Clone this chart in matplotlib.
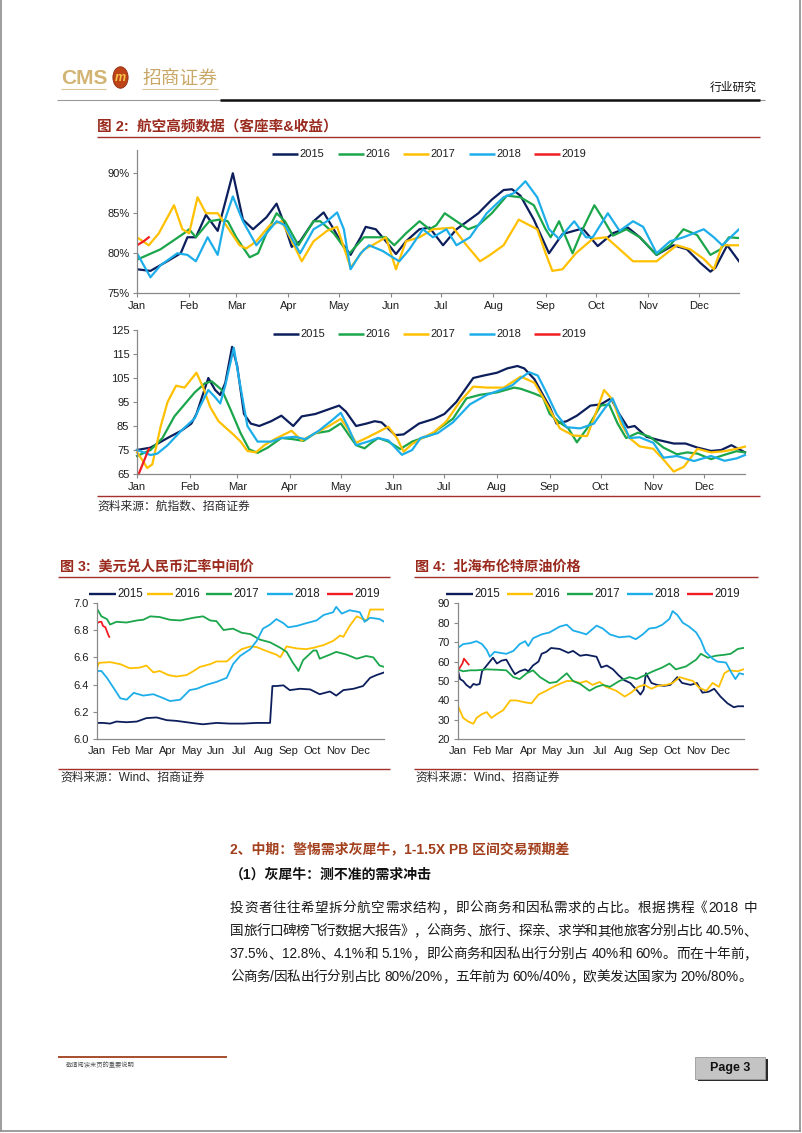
import re

import matplotlib
matplotlib.use("Agg")
import matplotlib.pyplot as plt
from matplotlib.lines import Line2D
from matplotlib.patches import Rectangle, Circle

plt.rcParams["font.family"] = ["Liberation Sans", "Noto Sans CJK SC", "DejaVu Sans"]

W, H = 802, 1133

MONTHS = ["Jan", "Feb", "Mar", "Apr", "May", "Jun", "Jul", "Aug", "Sep", "Oct", "Nov", "Dec"]
MONTH_START = [0, 31, 59, 90, 120, 151, 181, 212, 243, 273, 304, 334]
YEARS = ["2015", "2016", "2017", "2018", "2019"]

NAVY, GREEN, GOLD, SKY, RED = "#0C1F5C", "#1BA64B", "#FFC000", "#1DAEEA", "#F01E23"
COLORS_AIR = {"2015": NAVY, "2016": GREEN, "2017": GOLD, "2018": SKY, "2019": RED}
COLORS_MKT = {"2015": NAVY, "2016": GOLD, "2017": GREEN, "2018": SKY, "2019": RED}

# ---- figure 2 top: load factor (%), x = day of year
lf_2015_day = [0, 8, 18, 26, 30, 35, 41, 48, 57, 63, 69, 77, 83, 87, 92, 97, 105, 111, 117, 121, 127, 133, 136,
               142, 148, 154, 160, 168, 174, 182, 190, 203, 211, 218, 223, 228, 236, 245, 253, 265, 274, 283, 292,
               299, 309, 319, 327, 335, 341, 344, 351, 358]
lf_2015 = [78, 77.8, 79, 80, 82, 82, 84.8, 82.8, 90, 84.2, 83, 84.5, 86.2, 84, 80.8, 81.5, 84, 85.1, 83, 81.5, 79.8,
           82, 83.3, 83, 81.5, 79.9, 81.5, 83, 83.2, 81, 83, 85, 86.7, 87.9, 88, 87.2, 84.2, 80, 82.4, 83.1, 80.9,
           82.5, 83.2, 82, 79.8, 81, 80.5, 78.8, 77.7, 78.2, 81, 79]
lf_2016_day = [0, 14, 28, 31, 35, 43, 49, 54, 59, 67, 72, 77, 83, 88, 96, 105, 109, 117, 126, 135, 142, 148, 153,
               160, 168, 174, 178, 183, 190, 197, 203, 211, 220, 228, 236, 243, 246, 251, 255, 259, 265, 272, 278,
               283, 291, 299, 309, 317, 325, 333, 341, 347, 352, 358]
lf_2016 = [79.2, 80.5, 82.5, 83, 82, 84, 84.2, 84, 82, 79.5, 80, 82.5, 85, 84, 81, 84, 84, 82.5, 79.9, 82, 82, 82,
           81, 82.5, 84, 83, 83.5, 85, 84, 83, 83.5, 85, 87.2, 87, 86, 83, 82, 84, 82, 80, 83, 86, 84, 82.2, 83,
           82, 79.8, 81, 83, 82.3, 79.8, 80.5, 82, 81.9]
lf_2017_day = [0, 7, 13, 22, 27, 31, 36, 41, 48, 53, 61, 65, 71, 79, 86, 91, 98, 105, 113, 119, 127, 135, 140,
               148, 154, 160, 168, 176, 188, 196, 204, 210, 218, 227, 238, 243, 247, 253, 261, 271, 279, 287, 295,
               309, 321, 329, 337, 343, 348, 358]
lf_2017 = [82, 81, 82.5, 86, 83, 82.5, 87, 85, 85, 83.5, 81, 80.6, 81.5, 83.5, 84, 82, 79, 81.5, 82.8, 83.3, 78.2,
           80.5, 81, 82, 78, 81.5, 82, 83, 83.2, 81, 79, 79.8, 81, 84.2, 83, 80, 77.8, 78, 80, 81.8, 82, 80.5, 79,
           79, 81, 80.5, 79.3, 78, 81, 81]
lf_2018_day = [0, 4, 8, 14, 24, 30, 35, 42, 48, 52, 57, 63, 71, 77, 83, 88, 93, 97, 105, 113, 119, 123, 127, 133,
               138, 146, 152, 156, 162, 170, 176, 184, 190, 198, 208, 218, 224, 231, 238, 245, 251, 260, 267, 271,
               280, 287, 295, 301, 309, 317, 325, 337, 343, 348, 353, 358]
lf_2018 = [80, 78.5, 77, 78.5, 80, 79.8, 79, 82, 79.8, 84, 87.1, 84, 81, 82.5, 84, 83.5, 81.5, 80, 83, 84, 85.1,
           83, 78, 80, 81, 80.3, 79.5, 79, 80.5, 83, 82, 83, 81, 82, 85, 87, 87.5, 89, 87, 83, 81.8, 84, 82, 82,
           85, 82.8, 84, 83.3, 80, 81.5, 82, 83, 82, 81, 82, 83]
lf_2019_day = [0, 4, 7]
lf_2019 = [81, 81.5, 82]

# ---- figure 2 bottom: revenue index
ri_2015_day = [0, 8, 18, 26, 32, 35, 42, 46, 49, 52, 56, 59, 63, 67, 72, 79, 85, 92, 97, 105, 113, 119, 123, 129,
               135, 140, 144, 152, 157, 166, 175, 181, 188, 198, 204, 212, 218, 224, 228, 234, 239, 243, 247, 253,
               259, 267, 273, 279, 284, 289, 293, 300, 308, 316, 323, 330, 338, 344, 350, 354, 358]
ri_2015 = [75, 76, 80, 83, 86, 90, 105, 100, 97.9, 103, 118, 110, 90, 86, 85, 87, 89.3, 85, 89, 90, 92, 93.5, 91,
           85, 86, 87, 86.5, 81.2, 81.5, 86, 88, 90, 95, 105, 106, 107.2, 109, 110, 109, 104.5, 98, 93, 86, 87,
           89.3, 93.5, 94, 96.5, 90, 84.4, 85, 80.5, 79, 77.7, 77.7, 76, 74.6, 75, 77, 75.5, 74]
ri_2016_day = [0, 8, 15, 22, 28, 34, 40, 44, 50, 55, 61, 66, 71, 77, 85, 92, 98, 105, 113, 120, 125, 129, 134, 138,
               142, 148, 155, 162, 174, 177, 186, 194, 202, 212, 222, 226, 234, 239, 243, 249, 254, 259, 265, 273,
               278, 283, 288, 295, 302, 310, 318, 324, 330, 338, 346, 353, 358]
ri_2016 = [72.5, 75, 80, 89, 94, 99, 102.8, 103.6, 100, 92, 82, 75.3, 73.8, 76, 80, 79.5, 78.8, 82, 82.9, 86.1, 81,
           77, 75.7, 78, 80, 78.5, 75.4, 78.5, 81.5, 83.5, 88, 96.5, 98, 99, 101, 100.5, 98.5, 97, 90, 86.4, 84,
           78.2, 84, 93.5, 94, 86, 80, 82.2, 80.5, 76, 73.2, 74, 73.5, 71.2, 73, 74.5, 74]
ri_2017_day = [0, 3, 6, 9, 14, 18, 23, 28, 35, 39, 43, 48, 53, 57, 61, 65, 70, 75, 81, 91, 97, 105, 113, 120, 124,
               129, 135, 142, 148, 153, 157, 162, 168, 175, 182, 190, 198, 206, 216, 226, 234, 239, 243, 249, 257,
               265, 270, 275, 280, 285, 290, 296, 304, 310, 316, 322, 330, 338, 346, 353, 358]
ri_2017 = [74, 71, 67.5, 69, 85, 95, 101.8, 101, 107.2, 101, 93, 87, 83.8, 81.3, 78.5, 74.6, 74, 77, 79.5, 83, 79,
           82, 85, 88, 84, 78, 80, 82.5, 84.7, 80, 74.3, 77.5, 80, 82.5, 86.8, 95, 101.4, 101, 101, 105.6, 103, 97,
           92, 84, 81, 80.8, 90, 100, 96, 86, 80, 76.5, 75.5, 71, 66, 68, 75.5, 74, 74.5, 75.5, 76.4]
ri_2018_day = [0, 8, 12, 18, 26, 34, 37, 42, 46, 49, 52, 57, 60, 65, 71, 79, 85, 93, 99, 107, 115, 120, 124, 129,
               136, 142, 148, 156, 162, 167, 177, 186, 196, 206, 216, 221, 226, 231, 236, 241, 247, 253, 261, 269,
               275, 280, 285, 290, 296, 304, 310, 318, 328, 338, 346, 353, 358]
ri_2018 = [75, 72.9, 73.5, 77, 83, 88.2, 93, 100, 97, 94.4, 102, 117.6, 105, 85, 78.5, 78.5, 80, 80.5, 79.5, 83,
           87.5, 90.5, 85, 77, 78.5, 80, 79, 73, 75, 80, 82, 86.5, 94, 98, 100.5, 102, 105, 107.4, 106, 99, 90,
           84.5, 84, 86, 92, 96.5, 88, 80, 80.3, 78, 71.8, 72.5, 70.4, 72.5, 70.5, 71.5, 72.9]
ri_2019_day = [1, 7]
ri_2019 = [65, 75.5]

# ---- figure 3: USD/CNY central parity
fx_2015_day = [0, 8, 17, 25, 38, 51, 63, 76, 89, 101, 114, 127, 135, 152, 169, 186, 203, 218, 220, 223, 228, 237,
               245, 258, 271, 283, 296, 304, 313, 326, 338, 347, 355, 365]
fx_2015 = [6.12, 6.12, 6.115, 6.13, 6.125, 6.13, 6.155, 6.16, 6.14, 6.135, 6.125, 6.115, 6.11, 6.12, 6.115, 6.115,
           6.12, 6.12, 6.12, 6.39, 6.39, 6.395, 6.36, 6.37, 6.365, 6.33, 6.35, 6.32, 6.36, 6.37, 6.39, 6.45, 6.47,
           6.49]
fx_2016_day = [0, 3, 17, 30, 42, 55, 63, 72, 80, 91, 101, 114, 123, 131, 144, 152, 165, 175, 184, 195, 203, 216,
               228, 233, 241, 254, 266, 275, 288, 300, 309, 313, 321, 330, 338, 343, 347, 365]
fx_2016 = [6.52, 6.56, 6.565, 6.55, 6.52, 6.525, 6.54, 6.49, 6.5, 6.47, 6.46, 6.47, 6.5, 6.53, 6.55, 6.57, 6.57,
           6.62, 6.66, 6.68, 6.675, 6.645, 6.62, 6.6, 6.68, 6.665, 6.66, 6.67, 6.69, 6.72, 6.76, 6.75, 6.83, 6.9,
           6.88, 6.87, 6.95, 6.95]
fx_2017_day = [1, 6, 13, 17, 25, 38, 51, 59, 68, 80, 93, 106, 123, 135, 144, 152, 161, 173, 184, 195, 207, 220,
               233, 241, 249, 254, 256, 262, 275, 279, 283, 296, 304, 317, 330, 342, 351, 359, 365]
fx_2017 = [6.95, 6.9, 6.88, 6.84, 6.86, 6.855, 6.87, 6.875, 6.9, 6.895, 6.875, 6.87, 6.89, 6.9, 6.87, 6.865, 6.8,
           6.81, 6.78, 6.77, 6.73, 6.71, 6.67, 6.64, 6.56, 6.52, 6.5, 6.58, 6.65, 6.65, 6.59, 6.62, 6.64, 6.62,
           6.59, 6.61, 6.6, 6.54, 6.53]
fx_2018_day = [0, 6, 13, 21, 30, 38, 47, 59, 72, 85, 93, 106, 118, 127, 140, 152, 165, 173, 182, 195, 203, 211,
               220, 228, 237, 243, 254, 266, 279, 288, 300, 304, 311, 321, 334, 340, 347, 359, 365]
fx_2018 = [6.5, 6.5, 6.45, 6.38, 6.3, 6.29, 6.34, 6.32, 6.33, 6.3, 6.28, 6.29, 6.36, 6.37, 6.4, 6.42, 6.45, 6.55,
           6.61, 6.66, 6.72, 6.81, 6.84, 6.88, 6.85, 6.82, 6.83, 6.85, 6.87, 6.91, 6.93, 6.97, 6.92, 6.945, 6.93,
           6.86, 6.89, 6.88, 6.86]
fx_2019_day = [0, 4, 6, 8, 11, 13, 15, 16]
fx_2019 = [6.85, 6.86, 6.86, 6.83, 6.82, 6.79, 6.76, 6.75]

# ---- figure 4: Brent crude (USD/bbl)
oil_2015_day = [0, 3, 7, 11, 16, 20, 24, 28, 31, 35, 41, 45, 50, 56, 62, 69, 73, 79, 86, 90, 96, 103, 107, 113,
                119, 130, 141, 147, 156, 164, 177, 183, 190, 198, 205, 212, 220, 229, 233, 237, 240, 247, 254, 263,
                271, 280, 286, 297, 305, 312, 320, 327, 335, 344, 352, 357, 364]
oil_2015 = [56, 51, 50, 48, 46.5, 48.5, 48, 48.5, 55, 57, 60, 62, 59, 60.5, 61, 56, 53.5, 55, 56, 55, 58, 60, 64,
            65, 67, 66.5, 64.5, 65.5, 63, 63.5, 62.5, 57, 58, 56, 53, 50.5, 49, 45, 43, 45.5, 54, 49, 48, 47.5, 48,
            52, 49, 48, 49, 44, 44.5, 46, 42, 38.5, 36.5, 37, 37]
oil_2016_day = [0, 7, 14, 20, 24, 31, 37, 43, 50, 58, 67, 75, 86, 94, 103, 113, 122, 130, 139, 147, 156, 164, 172,
                181, 189, 202, 213, 221, 230, 238, 247, 255, 266, 274, 283, 291, 300, 308, 317, 325, 333, 340, 346,
                357, 364]
oil_2016 = [37.5, 31, 29, 28, 31, 33, 34, 31, 33, 35, 40, 40, 39, 38.5, 43, 45, 47, 48.5, 50, 50, 49, 50, 48, 49.5,
            47, 45, 42, 44, 47, 48, 46, 47.5, 48, 49, 52, 51, 50, 46.5, 45, 49, 47, 54, 55.5, 55, 56]
oil_2017_day = [0, 7, 16, 24, 37, 50, 62, 71, 79, 88, 96, 105, 117, 126, 139, 147, 156, 168, 177, 185, 194, 206,
                219, 228, 236, 249, 261, 270, 278, 291, 304, 310, 319, 329, 340, 348, 357, 364]
oil_2017 = [56, 55, 55.5, 55.5, 56, 55.8, 55.5, 52, 51, 54, 55.5, 52, 49, 49.5, 54, 50, 48.5, 45, 47, 48, 47, 50,
            52, 51, 52.5, 55, 57, 59, 56, 57.5, 61, 64, 62, 63, 63.5, 64, 66.5, 67]
oil_2018_day = [0, 7, 16, 24, 31, 37, 41, 47, 54, 62, 71, 79, 86, 90, 96, 107, 117, 130, 139, 147, 156, 164, 177,
                185, 194, 206, 219, 227, 236, 244, 253, 261, 270, 274, 280, 287, 295, 304, 310, 316, 325, 331, 342,
                348, 354, 359, 364]
oil_2018 = [67, 69, 69.5, 70.5, 69, 66, 62.5, 65, 64.5, 64, 65.5, 69, 70.5, 68, 72, 74, 75, 78, 79, 76, 75, 74,
            78.5, 77, 74, 72.5, 73, 71.5, 74, 77, 77.5, 79, 82, 86, 84, 80, 78, 75, 71, 65, 61.5, 60, 59.5, 55, 51,
            54, 53.5]
oil_2019_day = [0, 3, 6, 8, 11, 14]
oil_2019 = [55.5, 57, 59, 61.5, 60, 58.5]

BODY_LINES = [
    "投资者往往希望拆分航空需求结构，即公商务和因私需求的占比。根据携程《2018 中",
    "国旅行口碑榜飞行数据大报告》，公商务、旅行、探亲、求学和其他旅客分别占比 40.5%、",
    "37.5%、12.8%、4.1%和 5.1%，即公商务和因私出行分别占 40%和 60%。而在十年前，",
    "公商务/因私出行分别占比 80%/20%，五年前为 60%/40%，欧美发达国家为 20%/80%。",
]

TITLE_RED = "#9A2A1E"
RULE_RED = "#A3302A"
AXIS_GREY = "#898989"
CJK = ["Noto Sans CJK SC", "DejaVu Sans"]
TOKEN = re.compile(r"[0-9A-Za-z.%/\-]+| |.")


def fx(x):
    return x / W


def fy(y):
    return 1 - y / H


fig = plt.figure(figsize=(W / 100, H / 100), dpi=100)
renderer = fig.canvas.get_renderer()


def hline(x0, x1, y, color, lw):
    fig.add_artist(Line2D([fx(x0), fx(x1)], [fy(y), fy(y)], transform=fig.transFigure, color=color, lw=lw,
                          solid_capstyle="butt"))


def page_axes(left, top, right, bottom):
    ax = fig.add_axes([fx(left), fy(bottom), (right - left) / W, (bottom - top) / H])
    for side in ("top", "right"):
        ax.spines[side].set_visible(False)
    for side in ("left", "bottom"):
        ax.spines[side].set_color(AXIS_GREY)
        ax.spines[side].set_linewidth(0.9)
    ax.tick_params(direction="out", length=3, width=0.8, color=AXIS_GREY, labelsize=8, labelcolor="#1e1e1e", pad=2.5)
    ax.set_xticks(MONTH_START)
    ax.set_xticklabels(MONTHS)
    ax.patch.set_alpha(0)
    return ax


def legend_row(x_starts, y, colors, line_len, lw, size):
    for x0, year in zip(x_starts, YEARS):
        fig.add_artist(Line2D([fx(x0), fx(x0 + line_len)], [fy(y), fy(y)], transform=fig.transFigure,
                              color=colors[year], lw=lw, solid_capstyle="butt"))
        fig.text(fx(x0 + line_len + 1.5), fy(y), year, fontsize=size, va="center", ha="left", color="#1e1e1e")


def justified(text, x0, x1, y, size, color):
    # place token by token on a common baseline so the line fills x0..x1 like the report text
    baseline = y + 0.36 * size * 100 / 72
    items = []
    for tok in TOKEN.findall(text):
        if tok == " ":
            items.append((None, 0.3 * size * 100 / 72))
            continue
        t = fig.text(fx(x0), fy(baseline), tok, fontsize=size, color=color, va="baseline", ha="left")
        items.append((t, t.get_window_extent(renderer).width))
    gap = (x1 - x0 - sum(w for _, w in items)) / (len(items) - 1)
    x = x0
    for t, w in items:
        if t is not None:
            t.set_x(fx(x))
        x += w + gap


# ---------------- page frame and header
for xs, ys in (([1, 1], [0, 1131]), ([800, 800], [0, 1131]), ([1, 800], [1131, 1131])):
    fig.add_artist(Line2D([fx(v) for v in xs], [fy(v) for v in ys], transform=fig.transFigure,
                          color="#8c8c8c", lw=1.2))

fig.text(fx(61), fy(78), "CMS", fontsize=15, color="#D2B475", va="center", ha="left", weight="bold")
fig.add_artist(Circle((fx(120.5), fy(77.5)), 7.6 / W, transform=fig.transFigure, facecolor="#BE4418",
                      edgecolor="#8E2A0E", lw=0.6))
fig.text(fx(120.5), fy(78), "m", fontsize=9, color="#F7C548", va="center", ha="center", weight="bold",
         style="italic")
fig.text(fx(142), fy(78), "招商证券", fontsize=13.5, color="#C9A766", va="center", ha="left", family=CJK)
hline(61, 106, 88.5, "#DCC595", 0.8)
hline(142, 218, 88.5, "#DCC595", 0.8)
fig.text(fx(757), fy(87), "行业研究", fontsize=8.5, color="#111111", va="center", ha="right", family=CJK)
hline(57, 765, 100, "#9a9a9a", 0.8)
hline(220, 760, 99.5, "#111111", 1.8)

# ---------------- figure 2
fig.text(fx(97), fy(127), "图 2:  航空高频数据（客座率&收益）", fontsize=10.5, color=TITLE_RED, va="center",
         ha="left", weight="bold", family=["Liberation Sans", "Noto Sans CJK SC"])
hline(97, 760, 136.5, RULE_RED, 1.0)

ax1 = page_axes(137, 150, 739, 293.3)
for year, days, vals in zip(YEARS, [lf_2015_day, lf_2016_day, lf_2017_day, lf_2018_day, lf_2019_day],
                            [lf_2015, lf_2016, lf_2017, lf_2018, lf_2019]):
    ax1.plot(days, vals, color=COLORS_AIR[year], lw=1.6, solid_joinstyle="round")
ax1.set_xlim(0, 358)
ax1.set_ylim(75, 92.9)
ax1.set_yticks([75, 80, 85, 90])
ax1.set_yticklabels(["75%", "80%", "85%", "90%"])
legend_row([272, 338, 403, 469, 534], 154, COLORS_AIR, 26, 1.8, 8)

ax2 = page_axes(137, 330, 745, 474)
for year, days, vals in zip(YEARS, [ri_2015_day, ri_2016_day, ri_2017_day, ri_2018_day, ri_2019_day],
                            [ri_2015, ri_2016, ri_2017, ri_2018, ri_2019]):
    ax2.plot(days, vals, color=COLORS_AIR[year], lw=1.6, solid_joinstyle="round", clip_on=False)
ax2.set_xlim(0, 358)
ax2.set_ylim(65, 125)
ax2.set_yticks([65, 75, 85, 95, 105, 115, 125])
legend_row([273, 338, 403, 469, 534], 334, COLORS_AIR, 26, 1.8, 8)

hline(97, 760, 496, RULE_RED, 1.0)
fig.text(fx(97), fy(506.5), "资料来源：航指数、招商证券", fontsize=8.5, color="#2a2a2a", va="center", ha="left",
         family=CJK)

# ---------------- figure 3
fig.text(fx(60), fy(567), "图 3:  美元兑人民币汇率中间价", fontsize=10.2, color=TITLE_RED, va="center",
         ha="left", weight="bold", family=["Liberation Sans", "Noto Sans CJK SC"])
hline(58, 390, 576.5, RULE_RED, 1.0)
ax3 = page_axes(96.7, 602.7, 384.3, 739.3)
for year, days, vals in zip(YEARS, [fx_2015_day, fx_2016_day, fx_2017_day, fx_2018_day, fx_2019_day],
                            [fx_2015, fx_2016, fx_2017, fx_2018, fx_2019]):
    ax3.plot(days, vals, color=COLORS_MKT[year], lw=1.3, solid_joinstyle="round")
ax3.set_xlim(0, 365)
ax3.set_ylim(6.0, 7.0)
ax3.set_yticks([6.0, 6.2, 6.4, 6.6, 6.8, 7.0])
ax3.set_yticklabels(["6.0", "6.2", "6.4", "6.6", "6.8", "7.0"])
ax3.tick_params(axis="x", length=0, pad=5)
legend_row([89.3, 146.7, 205.7, 266.7, 326.7], 594.3, COLORS_MKT, 26.5, 1.7, 8.3)
hline(58, 390, 769, RULE_RED, 1.0)
fig.text(fx(60), fy(778), "资料来源：Wind、招商证券", fontsize=8.5, color="#2a2a2a", va="center", ha="left")

# ---------------- figure 4
fig.text(fx(415), fy(567), "图 4:  北海布伦特原油价格", fontsize=10.2, color=TITLE_RED, va="center",
         ha="left", weight="bold", family=["Liberation Sans", "Noto Sans CJK SC"])
hline(414, 758, 576.5, RULE_RED, 1.0)
ax4 = page_axes(457.7, 603.3, 744, 739.3)
for year, days, vals in zip(YEARS, [oil_2015_day, oil_2016_day, oil_2017_day, oil_2018_day, oil_2019_day],
                            [oil_2015, oil_2016, oil_2017, oil_2018, oil_2019]):
    ax4.plot(days, vals, color=COLORS_MKT[year], lw=1.3, solid_joinstyle="round")
ax4.set_xlim(0, 365)
ax4.set_ylim(20, 90)
ax4.set_yticks(range(20, 91, 10))
ax4.tick_params(axis="x", length=0, pad=5)
legend_row([446, 506.7, 566.7, 626.7, 686.7], 594.3, COLORS_MKT, 26.5, 1.7, 8.3)
hline(414, 758, 769, RULE_RED, 1.0)
fig.text(fx(415), fy(778), "资料来源：Wind、招商证券", fontsize=8.5, color="#2a2a2a", va="center", ha="left")

# ---------------- body text
fig.text(fx(230), fy(849), "2、中期：警惕需求灰犀牛，1-1.5X PB 区间交易预期差", fontsize=10, color="#A23F1C",
         va="center", ha="left", weight="bold")
fig.text(fx(230), fy(875), "（1）灰犀牛：测不准的需求冲击", fontsize=10, color="#111111", va="center",
         ha="left", weight="bold")
for i, line in enumerate(BODY_LINES):
    justified(line, 230, 757 if i < 3 else 752, 907 + 23 * i, 9.8, "#1a1a1a")

# ---------------- footer
hline(58, 227, 1057, "#A0401E", 1.3)
fig.text(fx(66), fy(1065), "敬请阅读末页的重要说明", fontsize=4.5, color="#555555", va="center", ha="left",
         family=CJK)
fig.add_artist(Rectangle((fx(698), fy(1081)), 70 / W, 22 / H, transform=fig.transFigure, facecolor="#2b2b2b",
                         edgecolor="none"))
fig.add_artist(Rectangle((fx(695), fy(1078.5)), 70 / W, 22 / H, transform=fig.transFigure, facecolor="#C4C4C4",
                         edgecolor="#9a9a9a", lw=0.6))
fig.text(fx(730), fy(1068), "Page 3", fontsize=9, weight="bold", color="#111111", va="center", ha="center",
         family=["Liberation Sans Narrow", "Liberation Sans"])

fig.savefig("out.png", dpi=100)
